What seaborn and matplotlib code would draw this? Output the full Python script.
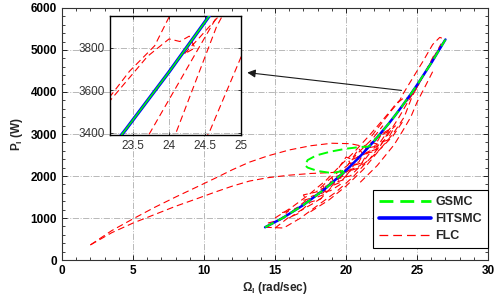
"""
Power vs rotor speed: GSMC / FITSMC / FLC with a zoomed inset
"""
import numpy as np
import pandas as pd
import matplotlib
matplotlib.use('Agg')
import matplotlib.pyplot as plt
import seaborn as sns
from matplotlib.lines import Line2D
from matplotlib.ticker import MultipleLocator

# ---- data (Omega_l in rad/s, P_l in W) ----
fitsmc_x = [14.3, 15.5, 17.0, 18.5, 20.0, 21.0, 22.0, 23.0, 23.4, 24.0, 24.55, 25.0, 26.0, 27.0]
fitsmc_y = [780, 993, 1310, 1688, 2134, 2470, 2840, 3245, 3417, 3687, 3946, 4167, 4688, 5250]

gsmc_x = [14.3, 15.5, 17.0, 18.5, 20.0, 19.0, 18.0, 17.3, 17.1, 17.3, 17.9, 18.9, 20.0, 21.0,
          21.6, 22.3, 23.0, 23.4, 24.0, 24.55, 25.0, 26.0, 27.0]
gsmc_y = [780, 993, 1310, 1688, 2134, 2070, 2120, 2200, 2260, 2380, 2490, 2580, 2650, 2690,
          2700, 2958, 3245, 3417, 3687, 3946, 4167, 4688, 5250]

# FLC transients (several passes)
flc_up_x = [2.0, 3.5, 5.0, 6.5, 8.0, 9.5, 10.8, 12.0, 13.2, 14.5, 16.0, 17.5, 19.0, 20.3, 21.3]
flc_up_y = [360, 700, 980, 1250, 1500, 1740, 1950, 2150, 2330, 2480, 2620, 2720, 2780, 2770, 2700]
flc_lo_x = [2.0, 3.5, 5.0, 6.5, 8.0, 9.5, 10.8, 12.0, 13.2, 14.5, 16.0, 17.5, 18.8, 20.0, 21.0]
flc_lo_y = [360, 650, 880, 1080, 1280, 1460, 1620, 1760, 1880, 1960, 2020, 2060, 2080, 2100, 2200]
flc_a_x = [15.0, 16.2, 17.4, 18.6, 19.6, 20.6, 21.6, 22.5, 23.2, 23.45, 23.8, 24.0, 24.6, 25.4, 26.1, 26.6, 27.0]
flc_a_y = [1000, 1260, 1560, 1900, 2250, 2580, 2950, 3300, 3580, 3690, 3810, 3945, 4280, 4720, 5130, 5300, 5250]
flc_b_x = [14.3, 15.6, 16.8, 18.0, 19.3, 20.5, 21.7, 22.8, 23.74, 24.42, 25.1, 25.8, 26.5, 27.0]
flc_b_y = [780, 762, 1000, 1300, 1620, 1980, 2420, 2900, 3404, 3804, 4200, 4600, 5000, 5250]
flc_c_x = [17.5, 18.8, 20.0, 21.2, 22.3, 23.3, 24.1, 24.66, 25.3, 26.0, 26.7]
flc_c_y = [1150, 1430, 1760, 2150, 2600, 3000, 3404, 3900, 4300, 4720, 5150]
flc_d_x = [21.0, 22.2, 23.4, 24.0, 24.56, 25.0, 25.6, 26.2]
flc_d_y = [1850, 2250, 2750, 3080, 3404, 3757, 4150, 4550]
flc_e_x = [21.8, 22.6, 23.2, 23.7, 24.0, 24.15, 24.28, 24.36, 24.21, 24.4, 24.8, 25.5, 26.2]
flc_e_y = [2950, 3300, 3560, 3760, 3842, 3830, 3855, 3800, 3771, 3840, 3990, 4420, 4880]
flc_f_x = [14.5, 15.4, 16.0, 16.9, 17.6, 18.4, 19.0, 19.7, 20.2, 20.9, 21.4, 22.0, 22.5, 23.0]
flc_f_y = [880, 960, 1200, 1260, 1520, 1600, 1900, 1960, 2300, 2330, 2660, 2700, 3000, 3100]
flc_g_x = [15.0, 15.9, 16.6, 17.5, 18.2, 19.1, 19.6, 20.4, 21.0, 21.8, 22.3, 23.0, 23.5]
flc_g_y = [760, 1000, 1100, 1380, 1450, 1780, 1850, 2160, 2250, 2600, 2650, 3050, 3200]
flc_h_x = [18.5, 19.2, 19.0, 19.8, 20.5, 20.2, 21.0, 21.6, 21.3, 22.1, 22.6]
flc_h_y = [1750, 1820, 1950, 2050, 2200, 2350, 2480, 2560, 2720, 2850, 3050]
flc_i_x = [17.0, 17.8, 18.3, 18.9, 19.5, 20.0, 20.6, 21.1, 21.5, 22.0, 22.4, 22.9, 23.3]
flc_i_y = [1420, 1500, 1700, 1720, 1980, 2000, 2280, 2300, 2550, 2580, 2800, 2850, 3100]
flc_j_x = [18.0, 18.6, 18.4, 19.3, 19.9, 19.6, 20.5, 21.0, 20.8, 21.7, 22.2, 22.0, 22.9]
flc_j_y = [1500, 1580, 1750, 1850, 1920, 2100, 2250, 2300, 2450, 2600, 2720, 2880, 3050]
flc_k_x = [16.0, 16.8, 17.6, 18.3, 18.0, 18.9, 19.6, 19.4, 20.3, 20.9, 21.6, 22.4, 23.3, 24.0]
flc_k_y = [1000, 1180, 1330, 1480, 1600, 1650, 1800, 1950, 2000, 2200, 2380, 2640, 2950, 3300]
flc_l_x = [15.5, 16.3, 17.2, 17.0, 17.9, 18.7, 19.4, 20.1, 20.7, 21.3, 21.9, 22.6]
flc_l_y = [1130, 1180, 1420, 1550, 1620, 1880, 2080, 2250, 2500, 2700, 2900, 3200]
flc_m_x = [19.5, 20.0, 20.4, 20.9, 21.2, 21.8, 22.3, 22.8, 23.2]
flc_m_y = [2200, 2450, 2400, 2650, 2520, 2800, 2750, 3000, 3180]

flc_traces = [(flc_up_x, flc_up_y), (flc_lo_x, flc_lo_y), (flc_a_x, flc_a_y),
              (flc_b_x, flc_b_y), (flc_c_x, flc_c_y), (flc_d_x, flc_d_y),
              (flc_e_x, flc_e_y), (flc_f_x, flc_f_y), (flc_g_x, flc_g_y),
              (flc_h_x, flc_h_y), (flc_i_x, flc_i_y), (flc_j_x, flc_j_y),
              (flc_k_x, flc_k_y), (flc_l_x, flc_l_y), (flc_m_x, flc_m_y)]

x_ticks = [0, 5, 10, 15, 20, 25, 30]
y_ticks = [0, 1000, 2000, 3000, 4000, 5000, 6000]
inset_x_ticks = [23.5, 24, 24.5, 25]
inset_y_ticks = [3400, 3600, 3800]

# ---- style ----
sns.set_theme(style='ticks')
plt.rcParams['font.family'] = ['Liberation Sans', 'DejaVu Sans']
plt.rcParams['mathtext.fontset'] = 'custom'
plt.rcParams['mathtext.rm'] = 'Liberation Sans'
plt.rcParams['mathtext.bf'] = 'Liberation Sans:bold'
plt.rcParams['mathtext.it'] = 'Liberation Sans:italic'

GREEN = '#00ff00'
BLUE = '#0000ff'
RED = '#ff0000'
RED_DASH = (0, (6, 3.5))
GRID = dict(color='#b8b8b8', linestyle='-.', linewidth=0.7)


def draw_all(ax, inset=False):
    sns.lineplot(x=fitsmc_x, y=fitsmc_y, sort=False, estimator=None, color=BLUE,
                 lw=2.4 if inset else 1.8, ax=ax, zorder=3)
    sns.lineplot(x=gsmc_x, y=gsmc_y, sort=False, estimator=None, color=GREEN,
                 lw=1.1 if inset else 1.4, ax=ax, zorder=4,
                 linestyle='-' if inset else (0, (5, 2.5)))
    for tx, ty in flc_traces:
        sns.lineplot(x=tx, y=ty, sort=False, estimator=None, color=RED,
                     lw=0.8, ax=ax, zorder=2, linestyle=RED_DASH)


fig = plt.figure(figsize=(4.98, 3.07), dpi=100)
ax = fig.add_axes([0.1245, 0.153, 0.8555, 0.821])
draw_all(ax)

ax.set_xlim(0, 30)
ax.set_ylim(0, 6000)
ax.set_xticks(x_ticks)
ax.set_yticks(y_ticks)
ax.xaxis.set_minor_locator(MultipleLocator(1))
ax.yaxis.set_minor_locator(MultipleLocator(200))
ax.tick_params(which='both', direction='in', top=True, right=True, colors='#222222',
               labelsize=8.5)
ax.tick_params(which='major', length=3.5, width=0.7)
ax.tick_params(which='minor', length=2, width=0.6)
for lab in ax.get_xticklabels() + ax.get_yticklabels():
    lab.set_fontweight('bold')
    lab.set_color('black')
ax.grid(True, **GRID)
for sp in ax.spines.values():
    sp.set_color('#333333')
    sp.set_linewidth(0.8)

ax.set_xlabel(r'$\mathbf{\Omega_l}$ (rad/sec)', fontsize=8.5, fontweight='bold', labelpad=2)
ax.set_ylabel(r'$\mathbf{P_l}$ (W)', fontsize=8.5, fontweight='bold', labelpad=4)

handles = [Line2D([], [], color=GREEN, lw=2, linestyle=(0, (5, 2.5)), label='GSMC'),
           Line2D([], [], color=BLUE, lw=2.6, label='FITSMC'),
           Line2D([], [], color=RED, lw=0.9, linestyle=(0, (7, 4)), label='FLC')]
leg = ax.legend(handles=handles, loc='lower right', bbox_to_anchor=(1.0, 0.046),
                borderaxespad=0, fancybox=False, framealpha=1, edgecolor='black',
                handlelength=4.2, handletextpad=0.3, borderpad=0.5, labelspacing=0.4,
                prop=dict(weight='bold', size=9))
leg.get_frame().set_linewidth(0.8)
leg.set_zorder(10)

# arrow from the main cluster to the inset
ax.annotate('', xy=(12.85, 4470), xytext=(24.1, 4030),
            arrowprops=dict(arrowstyle='-|>', color='#1a1a1a', lw=0.8, mutation_scale=12),
            zorder=6)

# ---- inset ----
axin = fig.add_axes([0.221, 0.560, 0.263, 0.388])
axin.set_facecolor('white')
draw_all(axin, inset=True)
axin.set_xlim(23.18, 25.0)
axin.set_ylim(3390, 3950)
axin.set_xticks(inset_x_ticks)
axin.set_xticklabels(['23.5', '24', '24.5', '25'])
axin.set_yticks(inset_y_ticks)
axin.tick_params(direction='in', length=2.5, width=0.6, labelsize=8.5,
                 colors='#222222', top=True, right=True)
for lab in axin.get_xticklabels() + axin.get_yticklabels():
    lab.set_color('#333333')
axin.grid(True, **GRID)
axin.set_xlabel('')
axin.set_ylabel('')
for sp in axin.spines.values():
    sp.set_color('black')
    sp.set_linewidth(1.0)

fig.savefig('out.png', dpi=100, facecolor='white')
print("Saved: out.png")
